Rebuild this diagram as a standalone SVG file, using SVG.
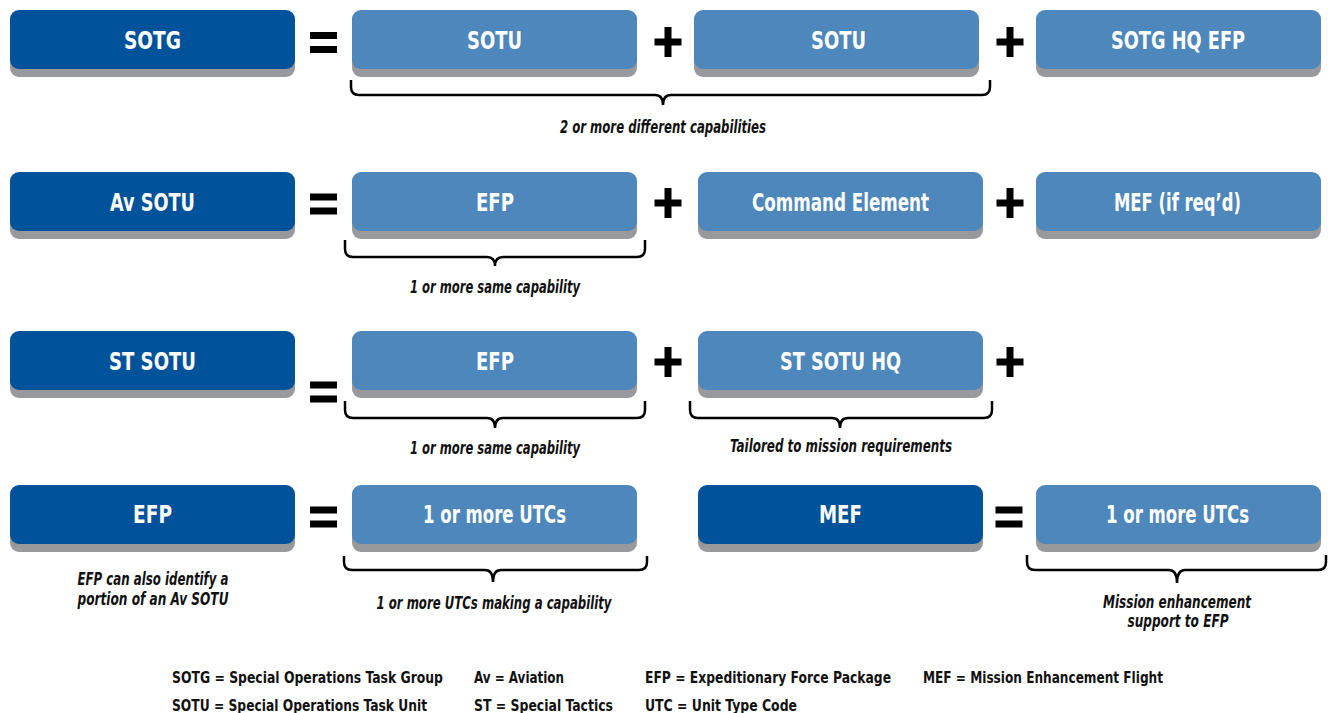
<svg xmlns="http://www.w3.org/2000/svg" width="1328" height="713" viewBox="0 0 1328 713">
<style>
.sh{fill:#97999c}
.dk{fill:#00529b}
.lt{fill:#4d87bc}
.bt{font-family:"Liberation Sans Narrow","DejaVu Sans Condensed","Liberation Sans",sans-serif;font-weight:bold;font-size:24px;fill:#fff;text-anchor:middle}
.lb{font-family:"Liberation Sans Narrow","DejaVu Sans Condensed","Liberation Sans",sans-serif;font-weight:bold;font-style:italic;font-size:17px;fill:#111;text-anchor:middle}
.lg{font-family:"Liberation Sans Narrow","DejaVu Sans Condensed","Liberation Sans",sans-serif;font-weight:bold;font-size:16px;fill:#111}
.op{fill:#000}
.br{fill:none;stroke:#000;stroke-width:2.5}
</style>
<defs>
<g id="eq"><rect x="-13.5" y="-10.5" width="27" height="7"/><rect x="-13.5" y="3.5" width="27" height="7"/></g>
<g id="pl"><rect x="-13.5" y="-3.5" width="27" height="7"/><rect x="-3.5" y="-15" width="7" height="30"/></g>
</defs>

<!-- Row 1 -->
<g id="n-sotg"><rect class="sh" x="10" y="18" width="285" height="59" rx="9"/><rect class="dk" x="10" y="10" width="285" height="59" rx="9"/><text class="bt" x="152.5" y="49" textLength="57" lengthAdjust="spacingAndGlyphs">SOTG</text></g>
<g id="n-sotu1"><rect class="sh" x="352" y="18" width="285" height="59" rx="9"/><rect class="lt" x="352" y="10" width="285" height="59" rx="9"/><text class="bt" x="494.5" y="49" textLength="55" lengthAdjust="spacingAndGlyphs">SOTU</text></g>
<g id="n-sotu2"><rect class="sh" x="694" y="18" width="285" height="59" rx="9"/><rect class="lt" x="694" y="10" width="285" height="59" rx="9"/><text class="bt" x="838.5" y="49" textLength="55" lengthAdjust="spacingAndGlyphs">SOTU</text></g>
<g id="n-sotghq"><rect class="sh" x="1036" y="18" width="285" height="59" rx="9"/><rect class="lt" x="1036" y="10" width="285" height="59" rx="9"/><text class="bt" x="1178" y="49" textLength="134" lengthAdjust="spacingAndGlyphs">SOTG HQ EFP</text></g>

<!-- Row 2 -->
<g id="n-avsotu"><rect class="sh" x="10" y="180" width="285" height="59" rx="9"/><rect class="dk" x="10" y="172" width="285" height="59" rx="9"/><text class="bt" x="152.5" y="211" textLength="85" lengthAdjust="spacingAndGlyphs">Av SOTU</text></g>
<g id="n-efp1"><rect class="sh" x="352" y="180" width="285" height="59" rx="9"/><rect class="lt" x="352" y="172" width="285" height="59" rx="9"/><text class="bt" x="495" y="211" textLength="38" lengthAdjust="spacingAndGlyphs">EFP</text></g>
<g id="n-cmd"><rect class="sh" x="698" y="180" width="285" height="59" rx="9"/><rect class="lt" x="698" y="172" width="285" height="59" rx="9"/><text class="bt" x="840.5" y="211" textLength="177" lengthAdjust="spacingAndGlyphs">Command Element</text></g>
<g id="n-mefreq"><rect class="sh" x="1036" y="180" width="285" height="59" rx="9"/><rect class="lt" x="1036" y="172" width="285" height="59" rx="9"/><text class="bt" x="1177.5" y="211" textLength="127" lengthAdjust="spacingAndGlyphs">MEF (if req’d)</text></g>

<!-- Row 3 -->
<g id="n-stsotu"><rect class="sh" x="10" y="339" width="285" height="59" rx="9"/><rect class="dk" x="10" y="331" width="285" height="59" rx="9"/><text class="bt" x="152.5" y="370" textLength="87" lengthAdjust="spacingAndGlyphs">ST SOTU</text></g>
<g id="n-efp2"><rect class="sh" x="352" y="339" width="285" height="59" rx="9"/><rect class="lt" x="352" y="331" width="285" height="59" rx="9"/><text class="bt" x="495" y="370" textLength="38" lengthAdjust="spacingAndGlyphs">EFP</text></g>
<g id="n-stsotuhq"><rect class="sh" x="698" y="339" width="285" height="59" rx="9"/><rect class="lt" x="698" y="331" width="285" height="59" rx="9"/><text class="bt" x="840.5" y="370" textLength="121" lengthAdjust="spacingAndGlyphs">ST SOTU HQ</text></g>

<!-- Row 4 -->
<g id="n-efp3"><rect class="sh" x="10" y="493" width="285" height="59" rx="9"/><rect class="dk" x="10" y="485" width="285" height="59" rx="9"/><text class="bt" x="152.5" y="523" textLength="39" lengthAdjust="spacingAndGlyphs">EFP</text></g>
<g id="n-utc1"><rect class="sh" x="352" y="493" width="285" height="59" rx="9"/><rect class="lt" x="352" y="485" width="285" height="59" rx="9"/><text class="bt" x="494.5" y="523" textLength="143" lengthAdjust="spacingAndGlyphs">1 or more UTCs</text></g>
<g id="n-mef"><rect class="sh" x="698" y="493" width="285" height="59" rx="9"/><rect class="dk" x="698" y="485" width="285" height="59" rx="9"/><text class="bt" x="840.5" y="523" textLength="43" lengthAdjust="spacingAndGlyphs">MEF</text></g>
<g id="n-utc2"><rect class="sh" x="1036" y="493" width="285" height="59" rx="9"/><rect class="lt" x="1036" y="485" width="285" height="59" rx="9"/><text class="bt" x="1177.5" y="523" textLength="143" lengthAdjust="spacingAndGlyphs">1 or more UTCs</text></g>

<!-- Operators -->
<g id="operators" class="op">
<use href="#eq" x="323.5" y="42.5"/>
<use href="#pl" x="668" y="42"/>
<use href="#pl" x="1010" y="42"/>
<use href="#eq" x="323.5" y="204"/>
<use href="#pl" x="668" y="203"/>
<use href="#pl" x="1010" y="203"/>
<use href="#eq" x="323.5" y="392"/>
<use href="#pl" x="668" y="362"/>
<use href="#pl" x="1010" y="362"/>
<use href="#eq" x="323.5" y="517"/>
<use href="#eq" x="1009" y="517"/>
</g>

<!-- Braces -->
<g id="connectors" class="br">
<path d="M351,80 V87 Q351,95 359,95 H655 Q663,95 663,105 Q663,95 671,95 H982 Q990,95 990,87 V80"/>
<path d="M345,240 V249 Q345,257 353,257 H487 Q495,257 495,266 Q495,257 503,257 H637 Q645,257 645,249 V240"/>
<path d="M345,401 V410 Q345,418 353,418 H487 Q495,418 495,428 Q495,418 503,418 H637 Q645,418 645,410 V401"/>
<path d="M690,401 V410 Q690,418 698,418 H832 Q840,418 840,428 Q840,418 848,418 H984 Q992,418 992,410 V401"/>
<path d="M344,556 V562 Q344,570 352,570 H485 Q493,570 493,582 Q493,570 501,570 H639 Q647,570 647,562 V556"/>
<path d="M1027,555 V562 Q1027,570 1035,570 H1169 Q1177,570 1177,583 Q1177,570 1185,570 H1318 Q1326,570 1326,562 V555"/>
</g>

<!-- Labels -->
<g id="labels">
<text class="lb" x="663" y="133" textLength="206" lengthAdjust="spacingAndGlyphs">2 or more different capabilities</text>
<text class="lb" x="495" y="293" textLength="170" lengthAdjust="spacingAndGlyphs">1 or more same capability</text>
<text class="lb" x="495" y="454" textLength="170" lengthAdjust="spacingAndGlyphs">1 or more same capability</text>
<text class="lb" x="841" y="452" textLength="222" lengthAdjust="spacingAndGlyphs">Tailored to mission requirements</text>
<text class="lb" x="494" y="609" textLength="235" lengthAdjust="spacingAndGlyphs">1 or more UTCs making a capability</text>
<text class="lb" x="153" y="585" textLength="151" lengthAdjust="spacingAndGlyphs">EFP can also identify a</text>
<text class="lb" x="153" y="605" textLength="151" lengthAdjust="spacingAndGlyphs">portion of an Av SOTU</text>
<text class="lb" x="1177" y="608" textLength="148" lengthAdjust="spacingAndGlyphs">Mission enhancement</text>
<text class="lb" x="1178" y="627" textLength="101" lengthAdjust="spacingAndGlyphs">support to EFP</text>
</g>

<!-- Legend -->
<g id="legend">
<text class="lg" x="172" y="683" textLength="271" lengthAdjust="spacingAndGlyphs">SOTG = Special Operations Task Group</text>
<text class="lg" x="474" y="683" textLength="90" lengthAdjust="spacingAndGlyphs">Av = Aviation</text>
<text class="lg" x="645" y="683" textLength="246" lengthAdjust="spacingAndGlyphs">EFP = Expeditionary Force Package</text>
<text class="lg" x="923" y="683" textLength="240" lengthAdjust="spacingAndGlyphs">MEF = Mission Enhancement Flight</text>
<text class="lg" x="172" y="711" textLength="255" lengthAdjust="spacingAndGlyphs">SOTU = Special Operations Task Unit</text>
<text class="lg" x="474" y="711" textLength="139" lengthAdjust="spacingAndGlyphs">ST = Special Tactics</text>
<text class="lg" x="645" y="711" textLength="152" lengthAdjust="spacingAndGlyphs">UTC = Unit Type Code</text>
</g>
</svg>
